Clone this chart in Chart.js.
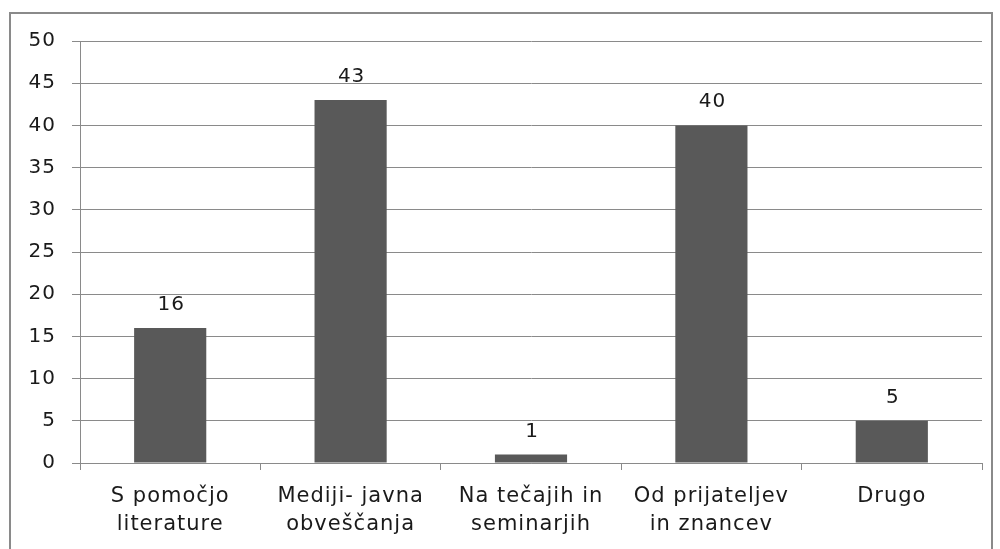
<!DOCTYPE html>
<html><head><meta charset="utf-8">
<script src="https://cdn.jsdelivr.net/npm/chart.js@4"></script>
<style>
html,body{margin:0;padding:0;background:#fff;}
#wrap{position:relative;width:1000px;height:549px;overflow:hidden;}
#frame{position:absolute;left:9px;top:12px;width:984px;height:560px;border:2px solid #8a8a8a;box-sizing:border-box;}
canvas{position:absolute;left:0;top:0;}
</style></head>
<body><div id="wrap"><div id="frame"></div><canvas id="c" width="1000" height="549"></canvas></div>
<script>
const categories = [["S pomočjo","literature"],["Mediji- javna","obveščanja"],["Na tečajih in","seminarjih"],["Od prijateljev","in znancev"],["Drugo"]];
const values = [16, 43, 1, 40, 5];
const yTicks = [0,5,10,15,20,25,30,35,40,45,50];

const FONT = "'DejaVu Sans', sans-serif";
const SPACING = '1px';
const spacingPlugin = {
  id: 'spacing',
  beforeUpdate(chart){ chart.ctx.letterSpacing = SPACING; },
  beforeDraw(chart){ chart.ctx.letterSpacing = SPACING; }
};
const labelPlugin = {
  id: 'valueLabels',
  afterDatasetsDraw(chart){
    const ctx = chart.ctx;
    const meta = chart.getDatasetMeta(0);
    ctx.save();
    ctx.letterSpacing = SPACING;
    ctx.font = "20px " + FONT;
    ctx.fillStyle = "#1a1a1a";
    ctx.textAlign = "center";
    ctx.textBaseline = "alphabetic";
    meta.data.forEach((bar,i)=>{
      ctx.fillText(String(values[i]), bar.x + 1, bar.y - 18);
    });
    ctx.restore();
  }
};

new Chart(document.getElementById('c'), {
  type: 'bar',
  data: { labels: categories, datasets: [{ data: values, backgroundColor: '#595959', borderWidth: 0, categoryPercentage: 0.4, barPercentage: 1 }] },
  options: {
    responsive: false, animation: false,
    layout: { padding: { left: 0, right: 18, top: 41, bottom: 0 } },
    plugins: { legend: { display: false }, tooltip: { enabled: false } },
    scales: {
      x: {
        grid: { offset: true, drawOnChartArea: false, drawTicks: true, tickLength: 7, color: '#8a8a8a', lineWidth: 1 },
        border: { display: true, color: '#8a8a8a', width: 1 },
        ticks: { color: '#1a1a1a', font: { family: FONT, size: 21, lineHeight: 1.33 }, padding: 13, maxRotation: 0, autoSkip: false },
        afterFit(s){ s.height = 86; }
      },
      y: {
        min: 0, max: 50,
        afterBuildTicks(s){ s.ticks = yTicks.map(v=>({value:v})); },
        grid: { color: '#8a8a8a', lineWidth: 1, drawTicks: true, tickLength: 8 },
        border: { display: true, color: '#8a8a8a', width: 1 },
        ticks: { color: '#1a1a1a', font: { family: FONT, size: 20 }, padding: 16 },
        afterFit(s){ s.width = 80; }
      }
    }
  },
  plugins: [spacingPlugin, labelPlugin]
});
</script></body></html>
